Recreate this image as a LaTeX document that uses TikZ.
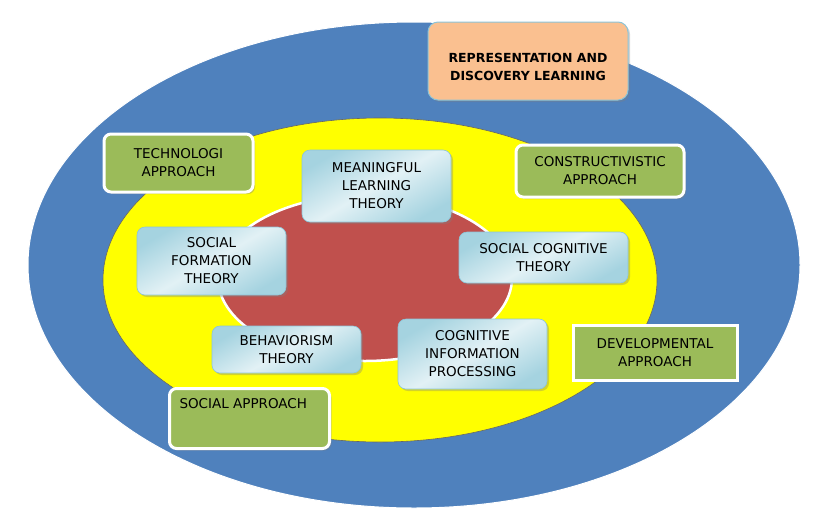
\documentclass[tikz,border=0pt]{standalone}
\usepackage{fontspec}
\setmainfont{DejaVu Sans}
\usetikzlibrary{shadows}
\definecolor{outerblue}{HTML}{4F81BD}
\definecolor{inyellow}{HTML}{FFFF00}
\definecolor{inred}{HTML}{C0504D}
\definecolor{greenbox}{HTML}{9BBB59}
\definecolor{peach}{HTML}{FAC090}
\definecolor{lblue}{HTML}{A5D3E0}
\definecolor{llblue}{HTML}{E2F1F5}
\definecolor{edgeblue}{HTML}{8CC4D8}
\tikzset{
  lbl/.style={font=\fontsize{13.5}{18}\selectfont, align=center, text=black},
  theory/.style={lbl, rounded corners=8pt, draw=edgeblue, line width=0.6pt,
    left color=lblue, right color=lblue, middle color=llblue, shading angle=30,
    drop shadow={shadow xshift=2pt, shadow yshift=-2pt, opacity=0.35},
    minimum width=149pt},
  approach/.style={lbl, rounded corners=7pt, draw=white, line width=3pt, fill=greenbox,
    drop shadow={shadow xshift=2pt, shadow yshift=-2pt, opacity=0.4}},
  sqapproach/.style={lbl, draw=white, line width=3pt, fill=greenbox,
    drop shadow={shadow xshift=2pt, shadow yshift=-2pt, opacity=0.4}},
  topbox/.style={rounded corners=10pt,
    draw=edgeblue, line width=1pt, fill=peach,
    drop shadow={shadow xshift=2pt, shadow yshift=-2pt, opacity=0.35}},
  toptext/.style={lbl, font=\fontsize{12.5}{18}\selectfont\bfseries}
}
\begin{document}
\begin{tikzpicture}[x=1pt,y=-1pt]
\useasboundingbox (0,0) rectangle (819,531);
% ellipses
\fill[outerblue, draw=white, line width=1pt] (414,265) ellipse [x radius=386, y radius=243];
\fill[inyellow, draw=black!60, line width=0.6pt] (380,280) ellipse [x radius=277, y radius=162];
\fill[inred, draw=white, line width=2.5pt] (365,278) ellipse [x radius=147, y radius=83];
% top box
\node[topbox, minimum width=200pt, minimum height=78pt] (rep) at (528,61) {};
\node[toptext] (reptext) at (528,67) {REPRESENTATION AND\\DISCOVERY LEARNING};
% approach boxes
\node[approach, minimum width=149pt, minimum height=58pt] (tech) at (178.5,163) {TECHNOLOGI\\APPROACH};
\node[approach, minimum width=168pt, minimum height=52pt] (cons) at (600,171) {CONSTRUCTIVISTIC\\APPROACH};
\node[sqapproach, minimum width=164pt, minimum height=55pt] (dev) at (655,352.5) {DEVELOPMENTAL\\APPROACH};
\node[approach, minimum width=160pt, minimum height=60pt, anchor=north west] (soc) at (168,387) {};
\node[lbl, anchor=north west] (soctext) at (176,395) {SOCIAL APPROACH};
% theory boxes
\node[theory, minimum height=72pt] (mean) at (376.5,186) {MEANINGFUL\\LEARNING\\THEORY};
\node[theory, minimum width=169pt, minimum height=51pt] (scog) at (543.5,257.5) {SOCIAL COGNITIVE\\THEORY};
\node[theory, minimum height=68pt] (sform) at (211.5,261) {SOCIAL\\FORMATION\\THEORY};
\node[theory, minimum height=47pt] (beh) at (286.5,349.5) {BEHAVIORISM\\THEORY};
\node[theory, minimum height=70pt] (cip) at (472.5,354) {COGNITIVE\\INFORMATION\\PROCESSING};
\end{tikzpicture}
\end{document}
